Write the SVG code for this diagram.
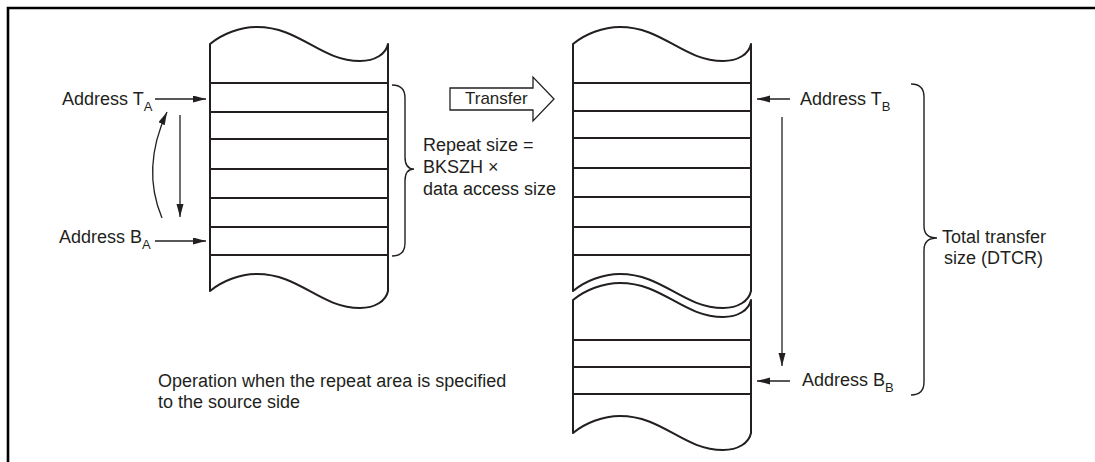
<svg xmlns="http://www.w3.org/2000/svg" width="1095" height="462" viewBox="0 0 1095 462">
<style>
.blk{fill:#fff;stroke:#231f20;stroke-width:2;stroke-linejoin:round}
.row{stroke:#231f20;stroke-width:2}
.ln{fill:none;stroke:#231f20;stroke-width:1.3}
.br{fill:none;stroke:#231f20;stroke-width:1.4}
.t{font-family:"Liberation Sans",Arial,sans-serif;font-size:18px;fill:#231f20}
.s{font-size:13px}
</style>
<defs>
<marker id="ah" markerUnits="userSpaceOnUse" markerWidth="14" markerHeight="8" refX="13" refY="3.5" orient="auto">
<path d="M0,0 L13,3.5 L0,7 Z" fill="#231f20"/>
</marker>
</defs>
<path id="frame" d="M8,462 V8 H1095" fill="none" stroke="#000" stroke-width="2.6"/>

<g id="block-A">
<path class="blk" d="M210,44 c12,-10 30,-17 47,-17 c43,0 63,34 103,34 c15,0 26,-7 28,-17 L388,291 c-2,10 -13,17 -28,17 c-40,0 -60,-34 -103,-34 c-17,0 -35,7 -47,17 Z"/>
<path class="row" d="M210,83 H388 M210,112 H388 M210,139 H388 M210,169 H388 M210,198 H388 M210,227 H388 M210,255 H388"/>
</g>

<g id="block-B">
<path class="blk" d="M573,44 c12,-10 30,-17 47,-17 c43,0 63,34 103,34 c15,0 26,-7 28,-17 L751,291 c-2,10 -13,17 -28,17 c-40,0 -60,-34 -103,-34 c-17,0 -35,7 -47,17 Z"/>
<path class="row" d="M573,83 H751 M573,111 H751 M573,138 H751 M573,168 H751 M573,197 H751 M573,227 H751 M573,255 H751"/>
<path class="blk" d="M573,300 c12,-10 30,-17 47,-17 c43,0 63,34 103,34 c15,0 26,-7 28,-17 L751,433 c-2,10 -13,17 -28,17 c-40,0 -60,-34 -103,-34 c-17,0 -35,7 -47,17 Z"/>
<path class="row" d="M573,340 H751 M573,367 H751 M573,394 H751"/>
</g>

<g id="transfer">
<polygon points="450,88 533,88 533,77 554,99 533,121 533,110 450,110" fill="#fff" stroke="#231f20" stroke-width="1.3" stroke-linejoin="miter"/>
<text class="t" x="465" y="104" style="font-size:17px">Transfer</text>
</g>

<g id="connectors">
<path class="ln" d="M155,99 H206" marker-end="url(#ah)"/>
<path class="ln" d="M155,241 H206" marker-end="url(#ah)"/>
<path class="ln" d="M180,115 V217" marker-end="url(#ah)"/>
<path class="ln" d="M162,218 Q141,168 167,112" marker-end="url(#ah)"/>
<path class="ln" d="M790,99 H757" marker-end="url(#ah)"/>
<path class="ln" d="M790,381 H757" marker-end="url(#ah)"/>
<path class="ln" d="M782,117 V366" marker-end="url(#ah)"/>
</g>

<g id="braces">
<path class="br" d="M392,85 Q405,85 405,98 L405,157 Q405,169 414,169 Q405,169 405,181 L405,243 Q405,256 392,256"/>
<path class="br" d="M911,84 Q924,84 924,97 L924,226 Q924,238 937,238 Q924,238 924,250 L924,382 Q924,395 911,395"/>
</g>

<g id="labels">
<text class="t" x="62" y="105">Address T<tspan class="s" dy="6">A</tspan></text>
<text class="t" x="59" y="243">Address B<tspan class="s" dy="6">A</tspan></text>
<text class="t" x="800" y="105">Address T<tspan class="s" dy="6">B</tspan></text>
<text class="t" x="802" y="386">Address B<tspan class="s" dy="6">B</tspan></text>
<text class="t" x="423" y="151">Repeat size =</text>
<text class="t" x="423" y="173">BKSZH ×</text>
<text class="t" x="423" y="195">data access size</text>
<text class="t" x="942" y="243">Total transfer</text>
<text class="t" x="944" y="264">size (DTCR)</text>
<text class="t" x="158" y="387">Operation when the repeat area is specified</text>
<text class="t" x="158" y="408">to the source side</text>
</g>
</svg>
